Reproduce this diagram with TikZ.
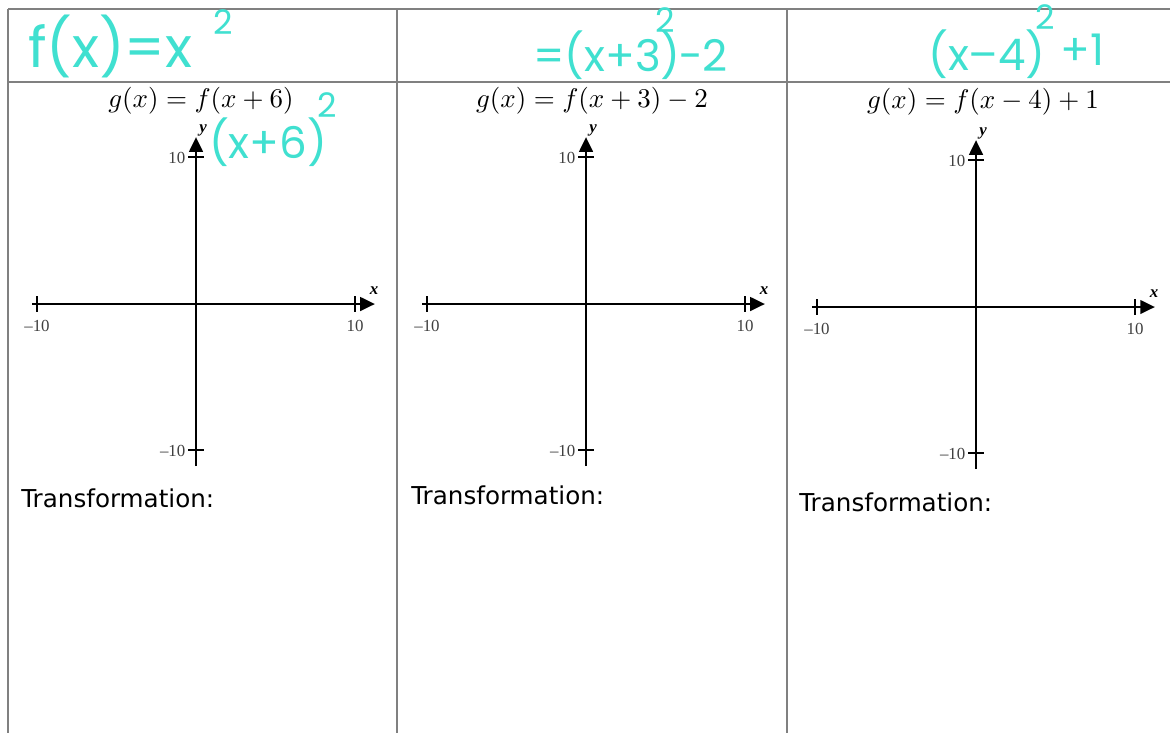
\documentclass[tikz,border=0pt]{standalone}
\usepackage{fontspec}
\setmainfont{Liberation Serif}
\newfontfamily\hwfont{Poppins}
\newfontfamily\trfont{DejaVu Sans}
\usetikzlibrary{arrows.meta}
\definecolor{hwc}{RGB}{64,224,208}
\definecolor{gridc}{RGB}{128,128,128}
\tikzset{
  gridline/.style={draw=gridc, line width=1.1pt},
  axisline/.style={draw=black, line width=2.1pt, -{Triangle[length=10.5pt,width=9.5pt]}},
  tickline/.style={draw=black, line width=1.2pt},
  ticklbl/.style={font=\fontsize{12}{14}\selectfont, text=black!75, inner sep=1pt},
  axlbl/.style={font=\itshape\bfseries\fontsize{12}{14}\selectfont, inner sep=0pt},
  header/.style={font=\fontsize{10}{12}\selectfont, inner sep=0pt, scale=1.92, transform shape},
  trans/.style={font=\trfont\fontsize{17.5}{20}\selectfont, anchor=west, inner sep=0pt},
  hw/.style={text=hwc, inner sep=0pt, font=\hwfont\fontsize{40}{44}\selectfont},
  hwmid/.style={text=hwc, inner sep=0pt, font=\hwfont\fontsize{31}{35}\selectfont},
  hwsmall/.style={text=hwc, inner sep=0pt, font=\hwfont\fontsize{24}{28}\selectfont}
}
\begin{document}
\begin{tikzpicture}[x=0.025cm,y=-0.025cm]
\useasboundingbox (0,0) rectangle (1170,733);
\fill[white] (0,0) rectangle (1170,733);
% table
\coordinate (t1) at (8,9); \coordinate (t2) at (1170,9);
\coordinate (h1) at (8,82); \coordinate (h2) at (1170,82);
\coordinate (v1a) at (8,9); \coordinate (v1b) at (8,733);
\coordinate (v2a) at (397,9); \coordinate (v2b) at (397,733);
\coordinate (v3a) at (787,9); \coordinate (v3b) at (787,733);
\draw[gridline] (t1) -- (t2);
\draw[gridline] (h1) -- (h2);
\draw[gridline] (v1a) -- (v1b);
\draw[gridline] (v2a) -- (v2b);
\draw[gridline] (v3a) -- (v3b);
% panels
\foreach \i/\ox/\oy in {1/0/0, 2/390/0, 3/780/3} {
  \begin{scope}[shift={(\ox,\oy)}]
    \coordinate (yb\i) at (196,466);
    \coordinate (yt\i) at (196,137);
    \coordinate (xl\i) at (32,304);
    \coordinate (xr\i) at (375,304);
    \draw[axisline] (yb\i) -- (yt\i);
    \draw[axisline] (xl\i) -- (xr\i);
    \coordinate (ty1a\i) at (188,157); \coordinate (ty1b\i) at (204,157);
    \coordinate (ty2a\i) at (188,450); \coordinate (ty2b\i) at (204,450);
    \coordinate (tx1a\i) at (37,296); \coordinate (tx1b\i) at (37,312);
    \coordinate (tx2a\i) at (355,296); \coordinate (tx2b\i) at (355,312);
    \draw[tickline] (ty1a\i) -- (ty1b\i);
    \draw[tickline] (ty2a\i) -- (ty2b\i);
    \draw[tickline] (tx1a\i) -- (tx1b\i);
    \draw[tickline] (tx2a\i) -- (tx2b\i);
    \node[ticklbl, anchor=east] (l10y\i) at (187,158) {10};
    \node[ticklbl, anchor=east] (lm10y\i) at (187,451) {\textendash10};
    \node[ticklbl] (lm10x\i) at (37,326) {\textendash10};
    \node[ticklbl] (l10x\i) at (355,326) {10};
    \node[axlbl] (xlab\i) at (374,291) {x};
    \node[axlbl] (ylab\i) at (203,130) {y};
  \end{scope}
}
% headers
\node[header] (g1) at (201,101) {$g(x)=f(x+6)$};
\node[header] (g2) at (592,101) {$g(x)=f(x+3)-2$};
\node[header] (g3) at (983,102) {$g(x)=f(x-4)+1$};
% Transformation
\node[trans] (tr1) at (21,498) {Transformation:};
\node[trans] (tr2) at (411,495) {Transformation:};
\node[trans] (tr3) at (799,502) {Transformation:};
% handwriting
\node[hw, anchor=west] (hw1) at (28,46) {f(x)=x};
\node[hwsmall] (hw1s) at (223,22) {2};
\node[hwmid] (hw2) at (268,142) {(x+6)};
\node[hwsmall] (hw2s) at (327,105) {2};
\node[hwmid, anchor=west] (hw3) at (533,55) {=(x+3)};
\node[hwsmall] (hw3s) at (665,20) {2};
\node[hwmid, anchor=west] (hw3b) at (678,55) {\textminus2};
\node[hwmid, anchor=west] (hw4) at (928,54) {(x\textendash4)};
\node[hwsmall] (hw4s) at (1045,17) {2};
\node[hwmid, anchor=west] (hw4b) at (1060,50) {+1};
\end{tikzpicture}
\end{document}
